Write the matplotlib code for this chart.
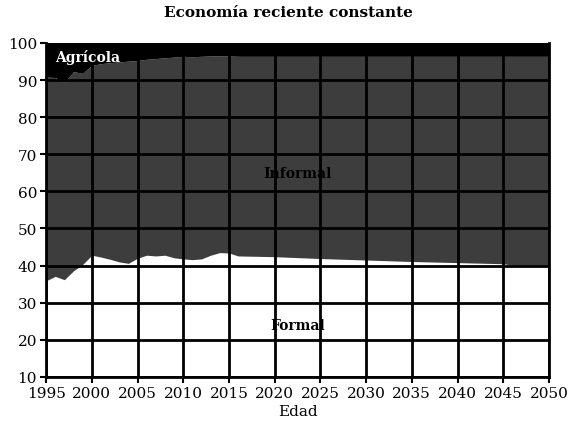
import matplotlib
matplotlib.use('Agg')
import matplotlib.pyplot as plt
import numpy as np

plt.rcParams['font.family'] = 'DejaVu Serif'

# Years and shares (%)
years = [1995, 1996, 1997, 1998, 1999, 2000, 2001, 2002, 2003, 2004, 2005,
         2006, 2007, 2008, 2009, 2010, 2011, 2012, 2013, 2014, 2015, 2016,
         2020, 2025, 2030, 2035, 2040, 2045, 2046, 2050]

# upper edge of the "Formal" area (cumulative %)
formal_top = [35.9, 37.1, 36.2, 38.6, 40.3, 42.8, 42.3, 41.7, 41.0, 40.6, 42.0,
              42.8, 42.6, 42.8, 42.1, 41.8, 41.6, 41.8, 42.8, 43.5, 43.4, 42.6,
              42.4, 41.9, 41.5, 41.1, 40.8, 40.5, 40.1, 40.1]

# upper edge of the "Informal" area (cumulative %)
informal_top = [90.8, 90.7, 89.4, 92.3, 91.8, 94.0, 94.4, 94.7, 94.9, 95.1, 95.3,
                95.6, 95.8, 96.0, 96.2, 96.4, 96.3, 96.4, 96.5, 96.5, 96.5, 96.4,
                96.4, 96.4, 96.4, 96.4, 96.4, 96.4, 96.4, 96.4]

total = [100] * len(years)

xticks = list(range(1995, 2051, 5))
yticks = list(range(10, 101, 10))

fig = plt.figure(figsize=(5.76, 4.27), dpi=100)
ax = fig.add_axes([0.080, 0.115, 0.873, 0.782])

ax.fill_between(years, 0, formal_top, color='white', lw=0)
ax.fill_between(years, formal_top, informal_top, color='#3d3d3d', lw=0)
ax.fill_between(years, informal_top, total, color='black', lw=0)

ax.set_xlim(1995, 2050)
ax.set_ylim(10, 100)
ax.set_xticks(xticks)
ax.set_yticks(yticks)
ax.grid(True, color='black', lw=2.0)
ax.set_axisbelow(False)
ax.spines['top'].set_visible(False)
for s in ['left', 'bottom', 'right']:
    ax.spines[s].set_linewidth(2.0)
ax.tick_params(direction='out', length=4, width=1.5, labelsize=11, pad=2.5)

ax.text(1996, 96.3, 'Agrícola', color='white', fontweight='bold', fontsize=10,
        va='center', ha='left')
ax.text(2022.5, 65, 'Informal', color='black', fontweight='bold', fontsize=10,
        ha='center', va='center')
ax.text(2022.5, 24, 'Formal', color='black', fontweight='bold', fontsize=10,
        ha='center', va='center')

ax.set_xlabel('Edad', fontsize=11, labelpad=3)
fig.suptitle('Economía reciente constante', fontweight='bold', fontsize=11, y=0.985)

fig.savefig('out.png', dpi=100)
